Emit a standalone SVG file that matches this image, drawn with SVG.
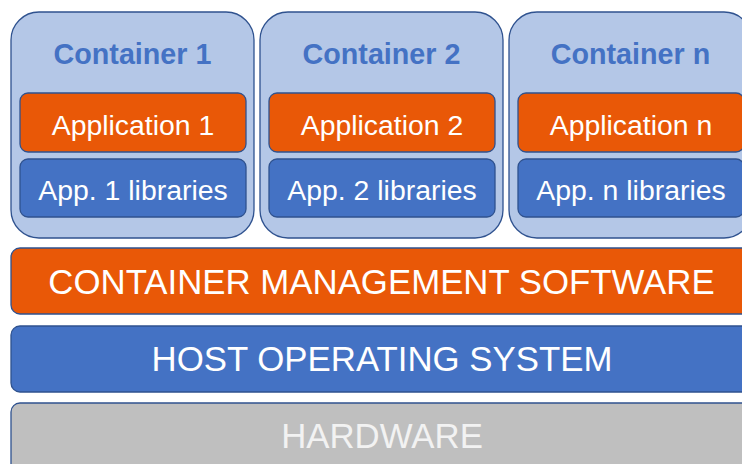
<svg xmlns="http://www.w3.org/2000/svg" width="742" height="464" viewBox="0 0 742 464">
<style>
text{font-family:"Liberation Sans",Arial,sans-serif;text-anchor:middle}
.cont{fill:#B4C7E7;stroke:#2F528F;stroke-width:1.3}
.app{fill:#E95807;stroke:#2F528F;stroke-width:1.3}
.lib{fill:#4472C4;stroke:#2F528F;stroke-width:1.3}
.hw{fill:#BFBFBF;stroke:#2F528F;stroke-width:1.3}
.title{font-size:28.7px;font-weight:bold;fill:#4472C4}
.lbl{font-size:28.4px;fill:#FFFFFF}
.big{font-size:34.8px;fill:#FFFFFF}
.hwt{font-size:34.8px;fill:#F2F2F2}
</style>
<rect width="742" height="464" fill="#FFFFFF"/>
<g id="container1">
<rect class="cont" x="11" y="12" width="243" height="226" rx="28"/>
<text class="title" x="132.5" y="64">Container 1</text>
<g id="app1"><rect class="app" x="20" y="93" width="226" height="59" rx="8"/><text class="lbl" x="133" y="135">Application 1</text></g>
<g id="lib1"><rect class="lib" x="20" y="159" width="226" height="58" rx="8"/><text class="lbl" x="133" y="200">App. 1 libraries</text></g>
</g>
<g id="container2">
<rect class="cont" x="260" y="12" width="243" height="226" rx="28"/>
<text class="title" x="381.5" y="64">Container 2</text>
<g id="app2"><rect class="app" x="269" y="93" width="226" height="59" rx="8"/><text class="lbl" x="382" y="135">Application 2</text></g>
<g id="lib2"><rect class="lib" x="269" y="159" width="226" height="58" rx="8"/><text class="lbl" x="382" y="200">App. 2 libraries</text></g>
</g>
<g id="containern">
<rect class="cont" x="509" y="12" width="243" height="226" rx="28"/>
<text class="title" x="630.5" y="64">Container n</text>
<g id="appn"><rect class="app" x="518" y="93" width="226" height="59" rx="8"/><text class="lbl" x="631" y="135">Application n</text></g>
<g id="libn"><rect class="lib" x="518" y="159" width="226" height="58" rx="8"/><text class="lbl" x="631" y="200">App. n libraries</text></g>
</g>
<g id="cms">
<rect class="app" x="11" y="248" width="741" height="66" rx="9"/>
<text class="big" x="381.5" y="294">CONTAINER MANAGEMENT SOFTWARE</text>
</g>
<g id="hostos">
<rect class="lib" x="11" y="326" width="741" height="66" rx="9"/>
<text class="big" x="382" y="371">HOST OPERATING SYSTEM</text>
</g>
<g id="hardware">
<rect class="hw" x="11" y="403" width="741" height="70" rx="9"/>
<text class="hwt" x="382" y="448">HARDWARE</text>
</g>
<g id="connectors"/>
</svg>
